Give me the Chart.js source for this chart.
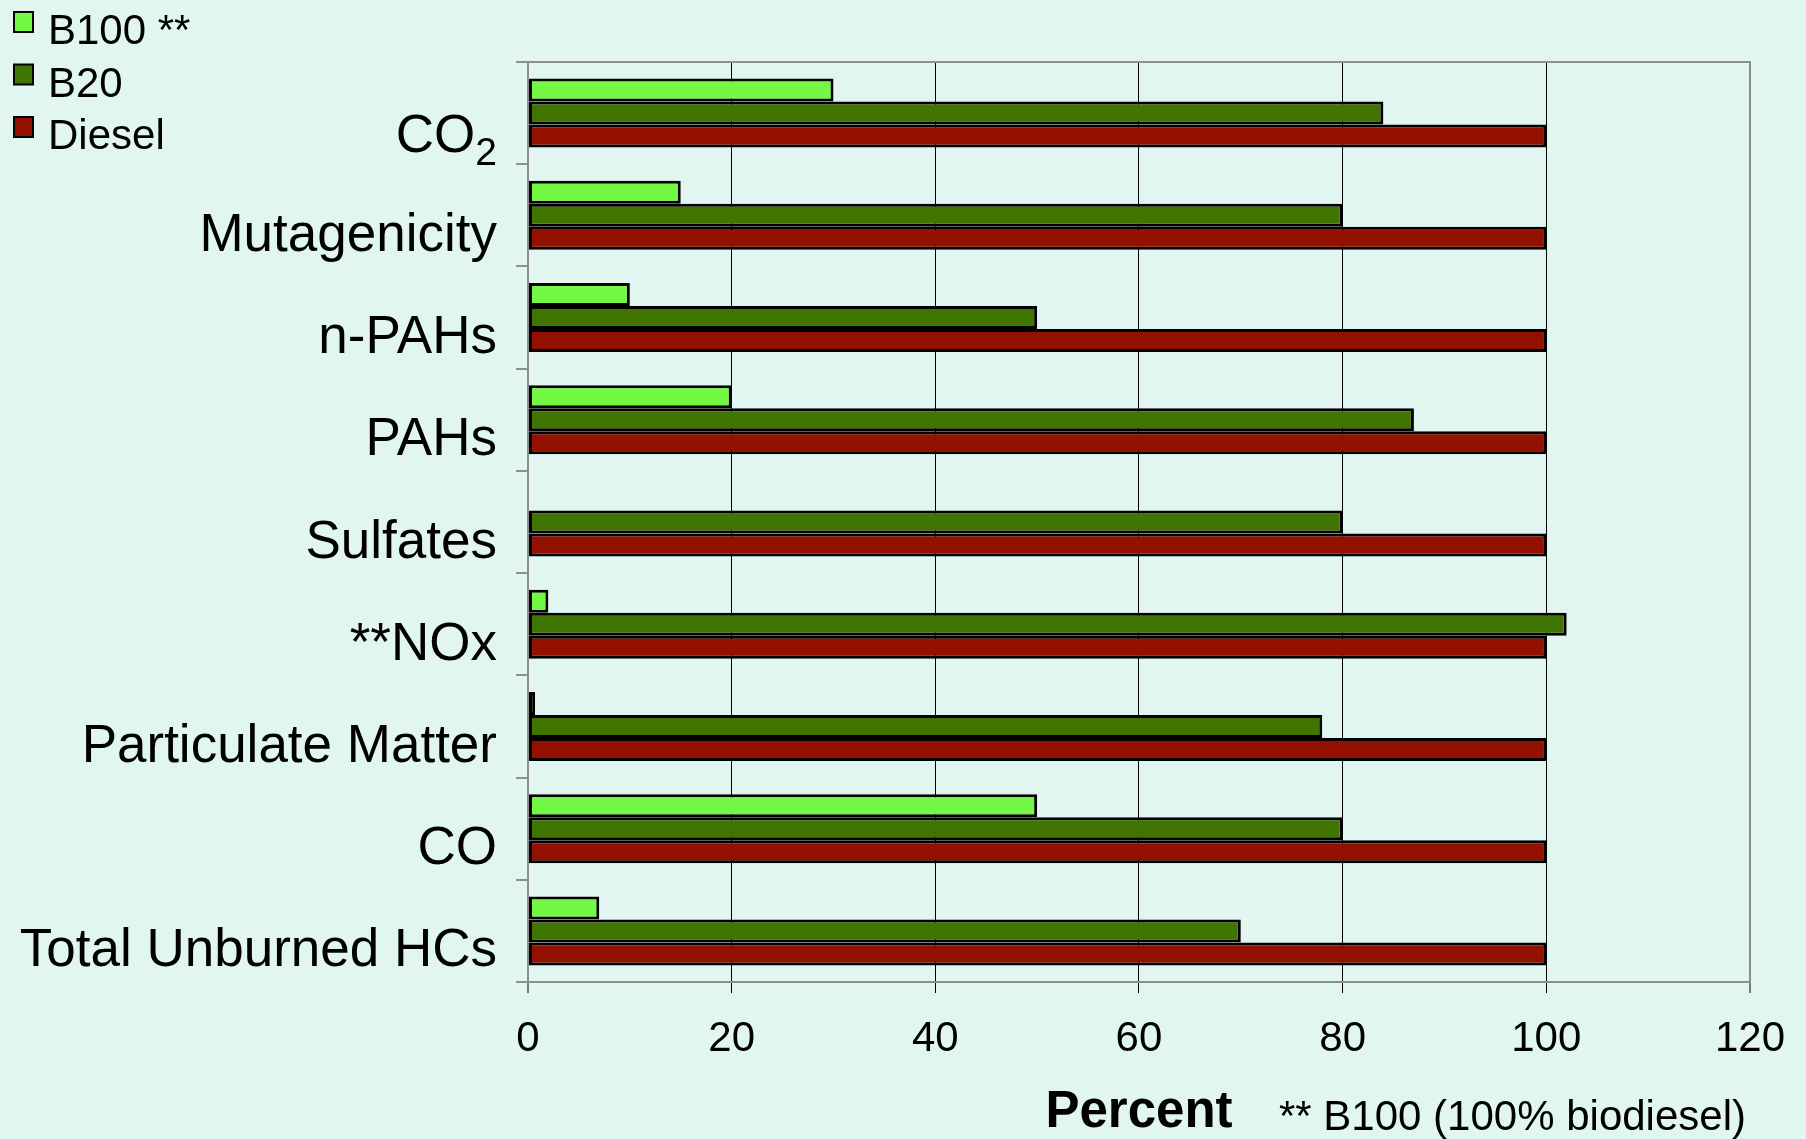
<!DOCTYPE html>
<html>
<head>
<meta charset="utf-8">
<script src="https://cdn.jsdelivr.net/npm/chart.js@4/dist/chart.umd.min.js"></script>
<style>
  html, body { margin: 0; padding: 0; background: #e2f6f1; }
  #wrap { width: 1806px; height: 1139px; position: relative; }
</style>
</head>
<body>
<div id="wrap"><canvas id="chart"></canvas></div>
<script>
// Datos
const categorias = ['CO₂', 'Mutagenicity', 'n-PAHs', 'PAHs', 'Sulfates', '**NOx', 'Particulate Matter', 'CO', 'Total Unburned HCs'];
const b100 = [30, 15, 10, 20, 0, 2, 0.7, 50, 7];
const b20 = [84, 80, 50, 87, 80, 102, 78, 80, 70];
const diesel = [100, 100, 100, 100, 100, 100, 100, 100, 100];
const series = ['B100 **', 'B20', 'Diesel'];
const ticksX = [0, 20, 40, 60, 80, 100, 120];
const nota = '** B100 (100% biodiesel)';

const colores = ['#73f944', '#3f7500', '#941100'];
const fuente = "'Liberation Sans', Arial, 'DejaVu Sans', sans-serif";
const gris = '#8e8e8e';
const desplazamiento = 21;

// Leyenda, borde superior/derecho, CO2 con subindice y nota al pie
const extras = {
    id: 'extras',
    afterDraw(chart) {
        const ctx = chart.ctx;
        const area = chart.chartArea;
        ctx.save();
        // borde gris arriba y a la derecha
        ctx.strokeStyle = gris;
        ctx.lineWidth = 2;
        ctx.beginPath();
        ctx.moveTo(area.left, area.top);
        ctx.lineTo(area.right, area.top);
        ctx.lineTo(area.right, area.bottom);
        ctx.stroke();

        // leyenda
        ctx.font = '42px ' + fuente;
        ctx.textBaseline = 'alphabetic';
        ctx.textAlign = 'left';
        chart.data.datasets.forEach((ds, i) => {
            const y = 12 + i * 52.5;
            ctx.fillStyle = ds.backgroundColor;
            ctx.fillRect(14, y, 19, 20);
            ctx.strokeStyle = '#000';
            ctx.lineWidth = 2;
            ctx.strokeRect(14, y, 19, 20);
            ctx.fillStyle = '#000';
            ctx.fillText(ds.label, 48, y + 32);
        });

        // etiqueta CO2 con el 2 como subindice
        const escala = chart.scales.y;
        const yc = escala.getPixelForTick(0) + desplazamiento;
        const xDer = area.left - 12 - 19;
        const texto = chart.data.labels[0];
        const base = texto.replace('₂', '');
        ctx.textAlign = 'right';
        ctx.font = '39px ' + fuente;
        ctx.fillText('2', xDer, yc + 31);
        const anchoSub = ctx.measureText('2').width;
        ctx.font = '53px ' + fuente;
        ctx.fillText(base, xDer - anchoSub, yc + 18);

        // nota
        ctx.textAlign = 'left';
        ctx.font = '42px ' + fuente;
        ctx.fillText(nota, 1279, 1130);
        ctx.restore();
    }
};

const ctx = document.getElementById('chart').getContext('2d');

new Chart(ctx, {
    type: 'bar',
    data: {
        labels: categorias,
        datasets: [b100, b20, diesel].map((valores, i) => ({
            label: series[i],
            data: valores,
            backgroundColor: colores[i],
            borderColor: '#000',
            borderWidth: 3,
            borderSkipped: false,
            categoryPercentage: 0.675,
            barPercentage: 1
        }))
    },
    options: {
        indexAxis: 'y',
        responsive: true,
        maintainAspectRatio: false,
        animation: false,
        layout: { padding: { top: 62, right: 49, left: 0, bottom: 0 } },
        plugins: {
            legend: { display: false },
            tooltip: { enabled: false }
        },
        scales: {
            x: {
                min: 0,
                max: 120,
                afterBuildTicks: (scale) => {
                    scale.ticks = ticksX.map(v => ({ value: v }));
                },
                afterFit: (scale) => { scale.height = 157; },
                grid: {
                    color: (c) => (c.tick && (c.tick.value === 0 || c.tick.value === 120)) ? gris : '#000',
                    lineWidth: (c) => (c.tick && (c.tick.value === 0 || c.tick.value === 120)) ? 2 : 1,
                    tickColor: '#000',
                    tickWidth: 1,
                    tickLength: 11
                },
                border: { color: gris, width: 2 },
                ticks: {
                    color: '#000',
                    font: { family: fuente, size: 42 },
                    padding: 21,
                    maxRotation: 0
                },
                title: {
                    display: true,
                    text: 'Percent',
                    color: '#000',
                    font: { family: fuente, size: 51, weight: 'bold', lineHeight: 1 },
                    padding: { top: 0, bottom: 1 }
                }
            },
            y: {
                afterFit: (scale) => { scale.width = 528; },
                grid: {
                    drawOnChartArea: false,
                    color: gris,
                    lineWidth: 2,
                    tickLength: 12
                },
                border: { color: gris, width: 2 },
                ticks: {
                    color: (c) => c.index === 0 ? 'rgba(0,0,0,0)' : '#000',
                    font: { family: fuente, size: 53 },
                    padding: 19,
                    labelOffset: desplazamiento
                }
            }
        }
    },
    plugins: [extras]
});
</script>
</body>
</html>
